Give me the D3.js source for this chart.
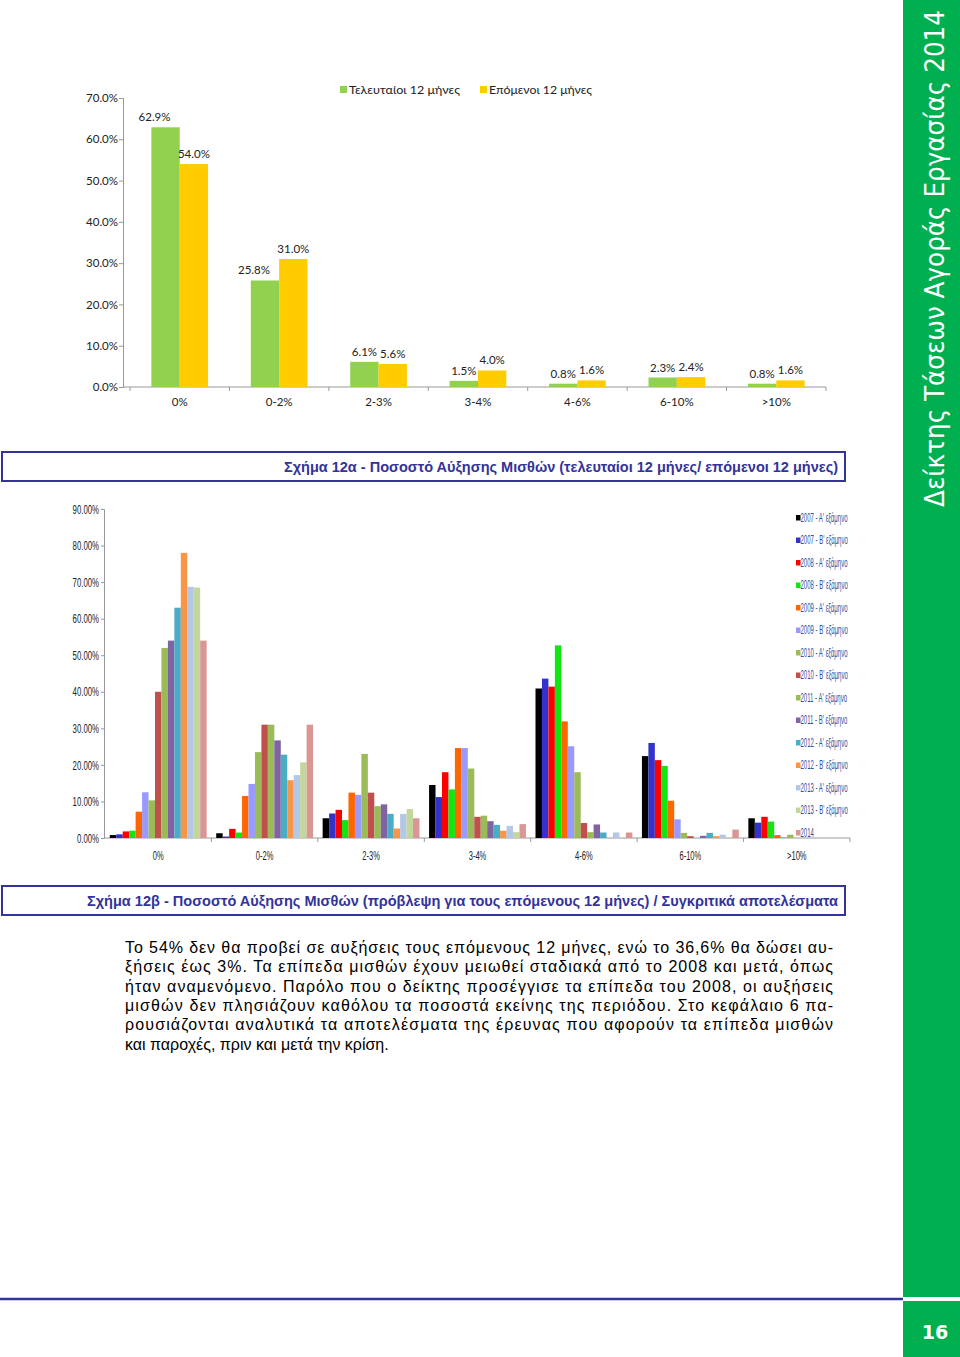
<!DOCTYPE html>
<html>
<head>
<meta charset="utf-8">
<script src="https://cdn.jsdelivr.net/npm/d3@7"></script>
<style>
  body { margin: 0; background: #fff; }
  svg { display: block; }
  .top-axis text { font-family: Lato, "Open Sans", sans-serif; font-size: 11.5px; fill: #222; }
  .bot-axis text { font-family: "Liberation Sans", Arial, sans-serif; font-size: 13px; fill: #222; }
  .axis path, .axis line { stroke: #999; }
</style>
</head>
<body>
<svg id="page" width="960" height="1357"></svg>
<script>
// chart 12a
const categories = ['0%', '0-2%', '2-3%', '3-4%', '4-6%', '6-10%', '>10%'];
const lastMonths = [62.9, 25.8, 6.1, 1.5, 0.8, 2.3, 0.8];
const nextMonths = [54.0, 31.0, 5.6, 4.0, 1.6, 2.4, 1.6];
const topSeries = ['Τελευταίοι 12 μήνες', 'Επόμενοι 12 μήνες'];
const topColors = ['#92d050', '#ffcc00'];
const topTicks = [0, 10, 20, 30, 40, 50, 60, 70];

// chart 12b, one array per survey period, in category order
const periods = [
  '2007 - Α\' εξάμηνο', '2007 - Β\' εξάμηνο', '2008 - Α\' εξάμηνο', '2008 - Β\' εξάμηνο',
  '2009 - Α\' εξάμηνο', '2009 - Β\' εξάμηνο', '2010 - Α\' εξάμηνο', '2010 - Β\' εξάμηνο',
  '2011 - Α\' εξάμηνο', '2011 - Β\' εξάμηνο', '2012 - Α\' εξάμηνο', '2012 - Β\' εξάμηνο',
  '2013 - Α\' εξάμηνο', '2013 - Β\' εξάμηνο', '2014'
];
const periodValues = [
  [0.8, 1.3, 5.4, 14.5, 40.9, 22.4, 5.4],
  [1.0, 0.4, 6.7, 11.2, 43.6, 26.0, 4.2],
  [1.8, 2.5, 7.7, 18.0, 41.4, 21.3, 5.8],
  [2.0, 1.5, 4.9, 13.3, 52.7, 19.7, 4.5],
  [7.2, 11.5, 12.4, 24.6, 31.9, 10.2, 0.8],
  [12.5, 14.8, 11.8, 24.6, 25.1, 5.1, 0.2],
  [10.3, 23.5, 23.0, 19.0, 18.0, 1.4, 0.9],
  [40.0, 31.0, 12.4, 5.8, 4.1, 0.5, 0],
  [52.0, 31.0, 8.7, 6.1, 1.6, 0, 0],
  [54.0, 26.7, 9.2, 4.6, 3.7, 0.6, 0],
  [63.0, 22.8, 6.6, 3.6, 1.5, 1.4, 0],
  [78.0, 15.8, 2.6, 2.0, 0, 0.5, 0],
  [68.7, 17.2, 6.6, 3.3, 1.5, 0.9, 0],
  [68.5, 20.7, 7.9, 1.6, 0, 0.2, 0],
  [54.0, 31.0, 5.4, 3.8, 1.5, 2.3, 0]
];
const periodColors = ['#000000', '#3333cc', '#ff0000', '#11e611', '#ff6600', '#9999ff', '#9bbb59',
  '#c0504d', '#9bbb59', '#8064a2', '#4bacc6', '#f79646', '#b4c7e7', '#c3d69b', '#d99694'];
const bottomTicks = [0, 10, 20, 30, 40, 50, 60, 70, 80, 90];

const captionA = 'Σχήμα 12α - Ποσοστό Αύξησης Μισθών (τελευταίοι 12 μήνες/ επόμενοι 12 μήνες)';
const captionB = 'Σχήμα 12β - Ποσοστό Αύξησης Μισθών (πρόβλεψη για τους επόμενους 12 μήνες) / Συγκριτικά αποτελέσματα';
const paragraph = [
  'Το 54% δεν θα προβεί σε αυξήσεις τους επόμενους 12 μήνες, ενώ το 36,6% θα δώσει αυ-',
  'ξήσεις έως 3%. Τα επίπεδα μισθών έχουν μειωθεί σταδιακά από το 2008 και μετά, όπως',
  'ήταν αναμενόμενο. Παρόλο που ο δείκτης προσέγγισε τα επίπεδα του 2008, οι αυξήσεις',
  'μισθών δεν πλησιάζουν καθόλου τα ποσοστά εκείνης της περιόδου. Στο κεφάλαιο 6 πα-',
  'ρουσιάζονται αναλυτικά τα αποτελέσματα της έρευνας που αφορούν τα επίπεδα μισθών',
  'και παροχές, πριν και μετά την κρίση.'
];

const svg = d3.select('#page');
const navy = '#333399';

// squeeze text horizontally (narrow fonts in the original)
function squeeze(sel, k) {
  sel.each(function() {
    const w = this.getComputedTextLength();
    d3.select(this).attr('textLength', w * k).attr('lengthAdjust', 'spacingAndGlyphs');
  });
}

// ---------- chart 12a ----------
const y1 = d3.scaleLinear().domain([0, 70]).range([387, 98]);
const x1 = d3.scaleBand().domain(categories).range([130, 826]).paddingInner(0.43).paddingOuter(0.215);
const x1s = d3.scaleBand().domain(topSeries).range([0, x1.bandwidth()]);

const chartA = svg.append('g');
chartA.append('g').attr('class', 'axis top-axis')
  .attr('transform', 'translate(123,0)')
  .call(d3.axisLeft(y1).tickValues(topTicks).tickSize(4).tickFormat(v => d3.format('.1%')(v / 100)))
  .call(g => g.selectAll('text').attr('x', -5));

chartA.append('line').attr('x1', 123).attr('x2', 826).attr('y1', y1(0)).attr('y2', y1(0)).attr('stroke', '#999');
const step1 = x1.step();
chartA.selectAll('.xtick').data(d3.range(categories.length + 1)).enter().append('line')
  .attr('x1', i => 130 + i * step1).attr('x2', i => 130 + i * step1)
  .attr('y1', y1(0)).attr('y2', y1(0) + 4).attr('stroke', '#999');
chartA.selectAll('.xlab').data(categories).enter().append('text')
  .attr('x', d => x1(d) + x1.bandwidth() / 2).attr('y', 406)
  .attr('text-anchor', 'middle')
  .style('font-family', 'Lato, sans-serif').style('font-size', '11.5px').attr('fill', '#222')
  .text(d => d);

const topData = [lastMonths, nextMonths];
topData.forEach((vals, s) => {
  const g = chartA.append('g');
  g.selectAll('rect').data(vals).enter().append('rect')
    .attr('x', (d, i) => x1(categories[i]) + x1s(topSeries[s]))
    .attr('y', d => y1(d))
    .attr('width', x1s.bandwidth())
    .attr('height', d => y1(0) - y1(d))
    .attr('fill', topColors[s]);
  g.selectAll('text').data(vals).enter().append('text')
    .attr('x', (d, i) => x1(categories[i]) + x1s(topSeries[s]) + x1s.bandwidth() / 2 - (s === 0 && d > 10 ? 11 : 0))
    .attr('y', d => y1(d) - 6)
    .attr('text-anchor', 'middle')
    .style('font-family', 'Lato, sans-serif').style('font-size', '11.5px').attr('fill', '#222')
    .text(d => d3.format('.1f')(d) + '%');
});

const topLegendX = [340, 480];
const topLegendW = [111, 103];
topSeries.forEach((name, s) => {
  chartA.append('rect').attr('x', topLegendX[s]).attr('y', 86).attr('width', 7).attr('height', 7).attr('fill', topColors[s]);
  chartA.append('text').attr('x', topLegendX[s] + 9).attr('y', 94)
    .style('font-family', 'Lato, sans-serif').style('font-size', '11.5px').attr('fill', '#222')
    .attr('textLength', topLegendW[s]).attr('lengthAdjust', 'spacingAndGlyphs')
    .text(name);
});

// caption boxes
function caption(yTop, text, x0) {
  svg.append('rect').attr('x', 2).attr('y', yTop).attr('width', 843).attr('height', 29)
    .attr('fill', '#fff').attr('stroke', navy).attr('stroke-width', 2);
  svg.append('text').attr('x', x0).attr('y', yTop + 19.5)
    .style('font-family', '"Liberation Sans", Arial, sans-serif').style('font-size', '14px')
    .style('font-weight', 'bold').attr('fill', navy)
    .attr('textLength', 838 - x0).attr('lengthAdjust', 'spacingAndGlyphs')
    .text(text);
}
caption(452, captionA, 284);
caption(886, captionB, 87);

// ---------- chart 12b ----------
const y2 = d3.scaleLinear().domain([0, 90]).range([838, 509]);
const x2 = d3.scaleBand().domain(categories).range([105, 850]).paddingInner(0.09).paddingOuter(0.045);
const x2s = d3.scaleBand().domain(periods).range([0, x2.bandwidth()]);

const chartB = svg.append('g');
chartB.append('g').attr('class', 'axis bot-axis')
  .attr('transform', 'translate(104,0)')
  .call(d3.axisLeft(y2).tickValues(bottomTicks).tickSize(3).tickFormat(v => d3.format('.2%')(v / 100)))
  .call(g => g.selectAll('text').attr('x', -5).call(squeeze, 0.6));
chartB.append('line').attr('x1', 104).attr('x2', 850).attr('y1', y2(0)).attr('y2', y2(0)).attr('stroke', '#999');
const step2 = x2.step();
chartB.selectAll('.xtick').data(d3.range(categories.length)).enter().append('line')
  .attr('x1', i => 105 + (i + 1) * step2).attr('x2', i => 105 + (i + 1) * step2)
  .attr('y1', y2(0)).attr('y2', y2(0) + 4).attr('stroke', '#999');
chartB.selectAll('.xlab').data(categories).enter().append('text')
  .attr('x', d => x2(d) + x2.bandwidth() / 2).attr('y', 860)
  .attr('text-anchor', 'middle')
  .style('font-family', '"Liberation Sans", Arial, sans-serif').style('font-size', '13px').attr('fill', '#222')
  .text(d => d)
  .call(squeeze, 0.58);

periodValues.forEach((vals, s) => {
  chartB.append('g').selectAll('rect').data(vals).enter().append('rect')
    .attr('x', (d, i) => x2(categories[i]) + x2s(periods[s]))
    .attr('y', d => y2(d))
    .attr('width', x2s.bandwidth())
    .attr('height', d => y2(0) - y2(d))
    .attr('fill', periodColors[s]);
});

const legend = chartB.append('g');
periods.forEach((name, s) => {
  const ly = 520 + s * 22.5;
  legend.append('rect').attr('x', 796).attr('y', ly - 5).attr('width', 4.5).attr('height', 5.5).attr('fill', periodColors[s]);
  legend.append('text').attr('x', 800.5).attr('y', ly + 1.5)
    .style('font-family', '"Liberation Sans", Arial, sans-serif').style('font-size', '12px').attr('fill', '#2f4fa0')
    .text(name)
    .call(squeeze, 0.5);
});

// ---------- paragraph ----------
paragraph.forEach((line, i) => {
  const t = svg.append('text').attr('x', 125).attr('y', 953 + i * 19.3)
    .style('font-family', '"Liberation Sans", Arial, sans-serif').style('font-size', '16px').attr('fill', '#000')
    .text(line);
  if (i < paragraph.length - 1) t.attr('textLength', 708).attr('lengthAdjust', 'spacing');
});

// ---------- side band and footer ----------
svg.append('rect').attr('x', 903).attr('y', 0).attr('width', 57).attr('height', 1297).attr('fill', '#00b050');
svg.append('rect').attr('x', 903).attr('y', 1301).attr('width', 57).attr('height', 56).attr('fill', '#00b050');
svg.append('line').attr('x1', 0).attr('x2', 903).attr('y1', 1299).attr('y2', 1299).attr('stroke', navy).attr('stroke-width', 2.5);
svg.append('text')
  .attr('transform', 'translate(944,507) rotate(-90)')
  .style('font-family', '"DejaVu Sans", Verdana, sans-serif').style('font-size', '26px').attr('fill', '#fff')
  .attr('textLength', 497).attr('lengthAdjust', 'spacingAndGlyphs')
  .text('Δείκτης Τάσεων Αγοράς Εργασίας 2014');
svg.append('text').attr('x', 935).attr('y', 1339).attr('text-anchor', 'middle')
  .style('font-family', '"DejaVu Sans", Verdana, sans-serif').style('font-size', '19px').style('font-weight', 'bold')
  .attr('fill', '#fff').text('16');
</script>
</body>
</html>
